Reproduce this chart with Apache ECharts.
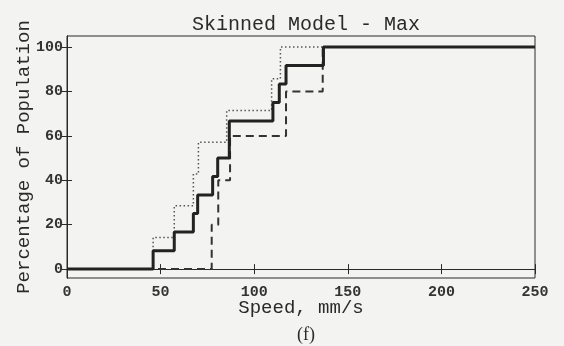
<!DOCTYPE html>
<html>
<head>
<meta charset="utf-8">
<script src="https://cdn.jsdelivr.net/npm/echarts@6/dist/echarts.min.js"></script>
<style>
  html, body { margin: 0; padding: 0; background: #f3f3f1; }
  #chart { width: 564px; height: 346px; }
</style>
</head>
<body>
<div id="chart"></div>
<script>
// Cumulative share of the population reaching each speed (mm/s).
// Each pair is [speed where the step rises, new percentage].
const solidSteps = [
  [0, 0], [46, 8.33], [57.3, 16.67], [67.5, 25], [69.8, 33.33], [77.8, 41.67],
  [80.5, 50], [86.7, 66.67], [110, 75], [113.4, 83.33], [117, 91.67], [137, 100], [250, 100]
];
const dottedSteps = [
  [0, 0], [46, 14.29], [57.3, 28.57], [67.5, 42.86], [70.2, 57.14], [85.3, 71.43],
  [109.3, 85.71], [114, 100], [250, 100]
];
const dashedSteps = [
  [0, 0], [77.3, 20], [80.8, 40], [87.1, 60], [117, 80], [136.6, 100], [250, 100]
];

const xTicks = [0, 50, 100, 150, 200, 250];
const yTicks = [0, 20, 40, 60, 80, 100];

const titleText = 'Skinned Model - Max';
const xName = 'Speed, mm/s';
const yName = 'Percentage of Population';
const panelLabel = '(f)';

const mono = 'Liberation Mono';
const ink = '#2a2a2a';

const chart = echarts.init(document.getElementById('chart'), null, { renderer: 'canvas' });

const tickStyle = { show: true, inside: true, length: 5, lineStyle: { color: ink, width: 1 } };

chart.setOption({
  backgroundColor: '#f3f3f1',
  animation: false,
  title: [
    {
      text: titleText, left: 301, top: 10, textAlign: 'center',
      textStyle: { fontFamily: mono, fontSize: 20, fontWeight: 'normal', color: ink }
    },
    {
      text: panelLabel, left: 301, top: 321, textAlign: 'center',
      textStyle: { fontFamily: 'Liberation Serif', fontSize: 18, fontWeight: 'normal', color: ink }
    }
  ],
  grid: {
    left: 67, right: 29, top: 36, bottom: 68, outerBoundsMode: 'none', containLabel: false,
    show: true, borderColor: ink, borderWidth: 1, backgroundColor: 'transparent'
  },
  xAxis: [
    {
      type: 'value', min: 0, max: 250, interval: 50,
      name: xName, nameLocation: 'middle', nameGap: 20, nameMoveOverlap: false,
      nameTextStyle: { fontFamily: mono, fontSize: 19, color: ink },
      axisLine: { show: true, lineStyle: { color: ink } },
      axisTick: tickStyle,
      axisLabel: { fontFamily: mono, fontSize: 15, fontWeight: 'bold', color: '#333', margin: 7,
        customValues: xTicks },
      splitLine: { show: false }
    },
    {
      type: 'value', min: 0, max: 250, interval: 50, position: 'top',
      axisLine: { show: true, lineStyle: { color: ink } },
      axisTick: tickStyle, axisLabel: { show: false }, splitLine: { show: false }
    }
  ],
  yAxis: [
    {
      type: 'value', min: -4, max: 105,
      name: yName, nameLocation: 'middle', nameGap: 34, nameRotate: 90, nameMoveOverlap: false,
      nameTextStyle: { fontFamily: mono, fontSize: 19, color: ink },
      axisLine: { show: true, lineStyle: { color: ink } },
      axisTick: Object.assign({}, tickStyle, { customValues: yTicks }),
      axisLabel: { fontFamily: mono, fontSize: 15, fontWeight: 'bold', color: '#333', margin: 4,
        customValues: yTicks },
      splitLine: { show: false }
    },
    {
      type: 'value', min: -4, max: 105, position: 'right',
      axisLine: { show: true, lineStyle: { color: ink } },
      axisTick: Object.assign({}, tickStyle, { customValues: yTicks }),
      axisLabel: { show: false }, splitLine: { show: false }
    }
  ],
  series: [
    {
      type: 'line', step: 'end', data: dottedSteps, showSymbol: false, z: 2,
      lineStyle: { color: '#555', width: 1.5, type: [1.5, 2.5] }
    },
    {
      type: 'line', step: 'end', data: dashedSteps, showSymbol: false, z: 3,
      lineStyle: { color: '#333', width: 2, type: [8, 5] }
    },
    {
      type: 'line', step: 'end', data: solidSteps, showSymbol: false, z: 4,
      lineStyle: { color: '#222', width: 3 }
    }
  ]
});
</script>
</body>
</html>
